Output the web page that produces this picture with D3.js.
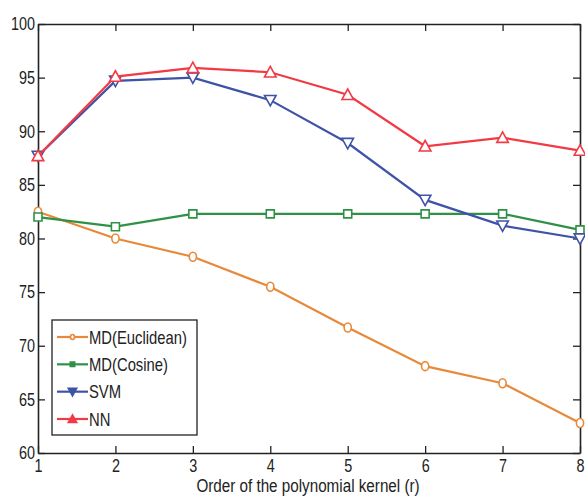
<!DOCTYPE html>
<html>
<head>
<meta charset="utf-8">
<script src="https://cdn.jsdelivr.net/npm/d3@7"></script>
<style>
  body { margin: 0; background: #fff; }
  text { font-family: "Liberation Sans", Arial, sans-serif; fill: #222; }
</style>
</head>
<body>
<svg id="chart" width="585" height="496"></svg>
<script>
// polynomial kernel order
const orders = [1, 2, 3, 4, 5, 6, 7, 8];
const euclidean = [82.5, 80.0, 78.3, 75.5, 71.7, 68.1, 66.5, 62.8];
const cosine = [82.0, 81.1, 82.3, 82.3, 82.3, 82.3, 82.3, 80.8];
const svm = [87.7, 94.7, 95.0, 92.9, 88.9, 83.6, 81.2, 80.0];
const nn = [87.7, 95.1, 95.9, 95.5, 93.4, 88.6, 89.4, 88.2];
const yTicks = [60, 65, 70, 75, 80, 85, 90, 95, 100];

const series = [
    { name: "MD(Euclidean)", values: euclidean, color: "#e8893a", marker: "circle" },
    { name: "MD(Cosine)", values: cosine, color: "#2f9146", marker: "square" },
    { name: "SVM", values: svm, color: "#3f53a6", marker: "down" },
    { name: "NN", values: nn, color: "#f23a44", marker: "up" },
];

const svg = d3.select("#chart");
const plot = { left: 38, right: 580, top: 24, bottom: 453 };

const x = d3.scaleLinear().domain([1, 8]).range([plot.left, plot.right]);
const y = d3.scaleLinear().domain([60, 100]).range([plot.bottom, plot.top]);

// squeeze text horizontally around its anchor point (condensed look of the original font)
const narrow = (sel, k = 0.8) => sel.each(function () {
    const t = d3.select(this);
    const tx = +t.attr("x") || 0, ty = +t.attr("y") || 0;
    t.attr("x", 0).attr("y", 0).attr("transform", `translate(${tx},${ty}) scale(${k},1)`);
});

const markerPath = (type, s) => {
    if (type === "square") return `M${-s},${-s}H${s}V${s}H${-s}Z`;
    if (type === "down") return `M${-s * 1.05},${-s * 0.85}H${s * 1.05}L0,${s * 1.05}Z`;
    return `M${-s * 1.05},${s * 0.85}H${s * 1.05}L0,${-s * 1.05}Z`;
};

const drawMarker = (g, type, cx, cy, s, color, fill) => {
    if (type === "circle") {
        g.append("ellipse").attr("cx", cx).attr("cy", cy)
            .attr("rx", s * 0.8).attr("ry", s)
            .attr("fill", fill).attr("stroke", color).attr("stroke-width", 1.6);
    } else {
        g.append("path").attr("transform", `translate(${cx},${cy})`)
            .attr("d", markerPath(type, s))
            .attr("fill", fill).attr("stroke", color).attr("stroke-width", 1.6);
    }
};

// axes (box with inward ticks)
const tickLen = 7;
svg.append("g").attr("transform", `translate(0,${plot.bottom})`)
    .call(d3.axisBottom(x).tickValues(orders).tickFormat(d3.format("d")).tickSizeInner(-tickLen).tickSizeOuter(0))
    .call(g => g.selectAll("text").attr("font-size", 18).attr("y", 4.5).attr("dy", "0.8em").call(narrow));
svg.append("g").attr("transform", `translate(0,${plot.top})`)
    .call(d3.axisTop(x).tickValues(orders).tickFormat("").tickSizeInner(-tickLen).tickSizeOuter(0));
svg.append("g").attr("transform", `translate(${plot.left},0)`)
    .call(d3.axisLeft(y).tickValues(yTicks).tickFormat(d3.format("d")).tickSizeInner(-tickLen).tickSizeOuter(0))
    .call(g => g.selectAll("text").attr("font-size", 18).attr("x", -3).call(narrow));
svg.append("g").attr("transform", `translate(${plot.right},0)`)
    .call(d3.axisRight(y).tickValues(yTicks).tickFormat("").tickSizeInner(-tickLen).tickSizeOuter(0));

svg.selectAll(".domain").attr("stroke", "#222").attr("stroke-width", 1.6);
svg.selectAll(".tick line").attr("stroke", "#222").attr("stroke-width", 1.3);
svg.selectAll(".tick text").attr("fill", "#222");

// x label
svg.append("text").attr("x", 308).attr("y", 491.5)
    .attr("text-anchor", "middle").attr("font-size", 17.5)
    .text("Order of the polynomial kernel (r)").call(narrow, 0.87);

// lines and markers
const line = d3.line().x((d, i) => x(orders[i])).y(d => y(d));
series.forEach(s => {
    const g = svg.append("g");
    g.append("path").datum(s.values).attr("d", line)
        .attr("fill", "none").attr("stroke", s.color).attr("stroke-width", 2.2);
    s.values.forEach((v, i) => drawMarker(g, s.marker, x(orders[i]), y(v), s.marker === "circle" ? 4.5 : (s.marker === "square" ? 4 : 5.5), s.color, "#fff"));
});

// legend
const legend = svg.append("g");
legend.append("rect").attr("x", 52).attr("y", 320).attr("width", 145).attr("height", 115)
    .attr("fill", "#fff").attr("stroke", "#222").attr("stroke-width", 1.3);
const rowY = d3.scalePoint().domain(series.map(s => s.name)).range([337, 419]);
series.forEach(s => {
    const cy = rowY(s.name);
    legend.append("line").attr("x1", 57).attr("x2", 88).attr("y1", cy).attr("y2", cy)
        .attr("stroke", s.color).attr("stroke-width", 2.2);
    drawMarker(legend, s.marker, 72.5, cy, s.marker === "circle" ? 2.5 : (s.marker === "square" ? 2.2 : 4), s.color, s.marker === "circle" ? "#fff" : s.color);
    legend.append("text").attr("x", 89).attr("y", cy).attr("dy", "0.36em")
        .attr("font-size", 18.5).text(s.name).call(narrow, 0.8);
});
</script>
</body>
</html>
